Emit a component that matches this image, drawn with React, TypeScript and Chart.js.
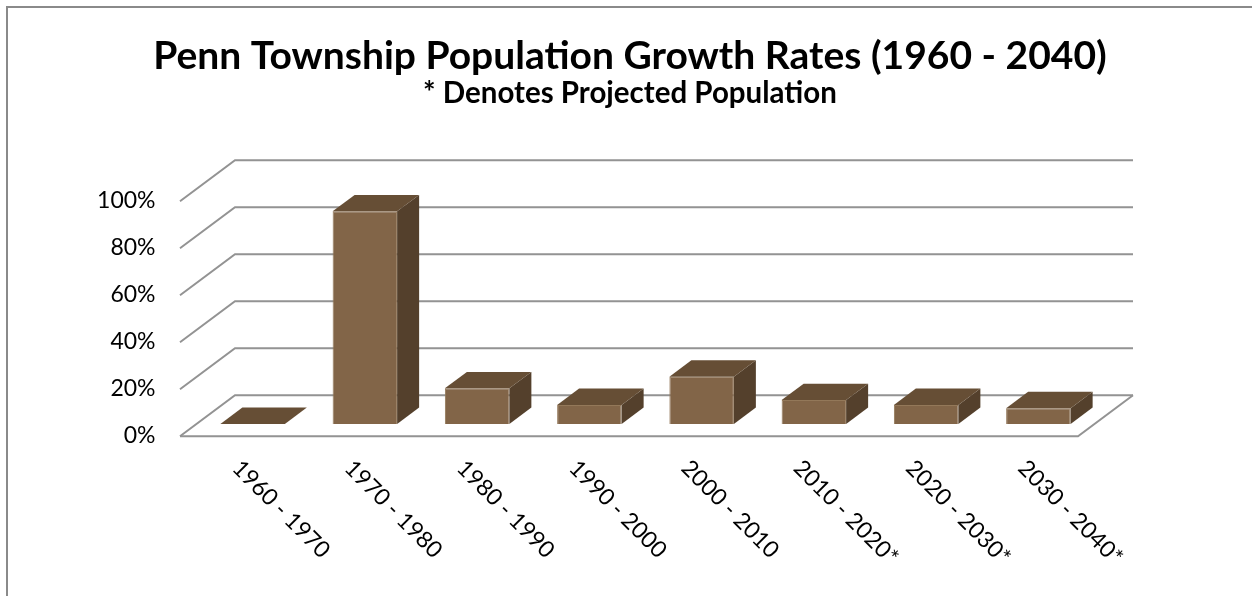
import React, { useEffect, useRef } from "react";
import { Chart, registerables } from "chart.js";

Chart.register(...registerables);

// ---- data ----
const categories = [
  "1960 - 1970",
  "1970 - 1980",
  "1980 - 1990",
  "1990 - 2000",
  "2000 - 2010",
  "2010 - 2020*",
  "2020 - 2030*",
  "2030 - 2040*",
];
const growthRates = [0, 90.5, 15.2, 8.1, 20.1, 10.2, 8.1, 6.7];
const yTickValues = [0, 20, 40, 60, 80, 100];
const titleText = "Penn Township Population Growth Rates (1960 - 2040)";
const subtitleText = "* Denotes Projected Population";

// ---- styling ----
const FONT = "Lato, 'Open Sans', 'DejaVu Sans', sans-serif";
const FRONT = { dx: -16.5, dy: 12.3 }; // floor front edge relative to bar plane
const BACK = { dx: 38.5, dy: -28.7 }; // back wall relative to bar plane
const BAR_DEPTH = { dx: 22, dy: -16.4 };
const FACE = "#826548";
const TOP = "#664e35";
const SIDE = "#54402c";
const GRID = "#939393";

const box3d = {
  id: "box3d",
  beforeDraw(chart: any) {
    const ctx = chart.ctx;
    ctx.save();
    ctx.fillStyle = "#ffffff";
    ctx.fillRect(0, 0, chart.width, chart.height);
    ctx.strokeStyle = "#8a8a8a";
    ctx.lineWidth = 2;
    ctx.strokeRect(7, 7, 3000, 3000);
    ctx.restore();
  },
  beforeDatasetsDraw(chart: any) {
    const ctx = chart.ctx;
    const { left: L, right: R } = chart.chartArea;
    const y = chart.scales.y;
    ctx.save();
    ctx.strokeStyle = GRID;
    ctx.lineWidth = 2;
    ctx.lineJoin = "miter";
    for (const t of y.ticks) {
      const py = y.getPixelForValue(t.value);
      ctx.beginPath();
      ctx.moveTo(L + FRONT.dx, py + FRONT.dy);
      ctx.lineTo(L + BACK.dx, py + BACK.dy);
      ctx.lineTo(R + BACK.dx, py + BACK.dy);
      ctx.stroke();
    }
    const p0 = y.getPixelForValue(0);
    ctx.beginPath();
    ctx.moveTo(L + FRONT.dx, p0 + FRONT.dy);
    ctx.lineTo(R + FRONT.dx, p0 + FRONT.dy);
    ctx.lineTo(R + BACK.dx, p0 + BACK.dy);
    ctx.stroke();
    ctx.restore();
  },
  afterDatasetsDraw(chart: any) {
    const ctx = chart.ctx;
    const meta = chart.getDatasetMeta(0);
    ctx.save();
    for (const bar of meta.data) {
      const { x, y, base, width } = bar.getProps(["x", "y", "base", "width"], true);
      const l = x - width / 2;
      const r = x + width / 2;
      if (base - y > 0.5) {
        ctx.fillStyle = SIDE;
        ctx.beginPath();
        ctx.moveTo(r, y);
        ctx.lineTo(r + BAR_DEPTH.dx, y + BAR_DEPTH.dy);
        ctx.lineTo(r + BAR_DEPTH.dx, base + BAR_DEPTH.dy);
        ctx.lineTo(r, base);
        ctx.closePath();
        ctx.fill();
      }
      ctx.fillStyle = TOP;
      ctx.beginPath();
      ctx.moveTo(l, y);
      ctx.lineTo(r, y);
      ctx.lineTo(r + BAR_DEPTH.dx, y + BAR_DEPTH.dy);
      ctx.lineTo(l + BAR_DEPTH.dx, y + BAR_DEPTH.dy);
      ctx.closePath();
      ctx.fill();
    }
    ctx.restore();
  },
  afterDraw(chart: any) {
    const ctx = chart.ctx;
    const xs = chart.scales.x;
    const p0 = chart.scales.y.getPixelForValue(0);
    ctx.save();
    ctx.fillStyle = "#000";
    ctx.font = `23px ${FONT}`;
    ctx.textAlign = "left";
    ctx.textBaseline = "middle";
    categories.forEach((label, i) => {
      const x = xs.getPixelForValue(i) + FRONT.dx;
      const yy = p0 + FRONT.dy + 28;
      ctx.save();
      ctx.translate(x, yy);
      ctx.rotate(Math.PI / 4);
      ctx.fillText(label, 0, 0);
      ctx.restore();
    });
    ctx.restore();
  },
};

export default function App() {
  const ref = useRef<HTMLCanvasElement | null>(null);
  useEffect(() => {
    if (!ref.current) return;
    const chart = new Chart(ref.current, {
      type: "bar",
      data: {
        labels: categories,
        datasets: [
          {
            data: growthRates,
            backgroundColor: FACE,
            borderColor: "#937859",
            borderWidth: 1,
            categoryPercentage: 0.5746,
            barPercentage: 1,
          },
        ],
      },
      options: {
        responsive: false,
        animation: false,
        events: [],
        layout: { padding: { top: 0, left: 90, right: 82, bottom: 172 } },
        plugins: {
          legend: { display: false },
          tooltip: { enabled: false },
          title: {
            display: true,
            text: titleText,
            color: "#000",
            font: { family: FONT, size: 39, weight: "bold", lineHeight: 1 },
            padding: { top: 36.6, bottom: 0 },
          },
          subtitle: {
            display: true,
            text: subtitleText,
            color: "#000",
            font: { family: FONT, size: 29.5, weight: "bold", lineHeight: 1 },
            padding: { top: 2.75, bottom: 81.15 },
          },
        },
        scales: {
          x: { display: false },
          y: {
            min: 0,
            max: 100,
            afterBuildTicks: (s: any) => {
              s.ticks = yTickValues.map((v) => ({ value: v }));
            },
            afterFit: (s: any) => {
              s.width = 106.5;
            },
            grid: { display: false, drawTicks: false },
            border: { display: false },
            ticks: {
              color: "#000",
              font: { family: FONT, size: 23 },
              padding: 41,
              labelOffset: 12,
              callback: (v: any) => `${v}%`,
            },
          },
          spacer: {
            type: "linear",
            position: "right",
            display: true,
            afterFit: (s: any) => {
              s.width = 75.5;
            },
            grid: { display: false, drawTicks: false },
            border: { display: false },
            ticks: { display: false },
          },
        },
      },
      plugins: [box3d],
    });
    return () => chart.destroy();
  }, []);
  return (
    <div style={{ position: "fixed", left: 0, top: 0, width: 1252, height: 596 }}>
      <canvas ref={ref} width={1252} height={596} style={{ display: "block" }} />
    </div>
  );
}
